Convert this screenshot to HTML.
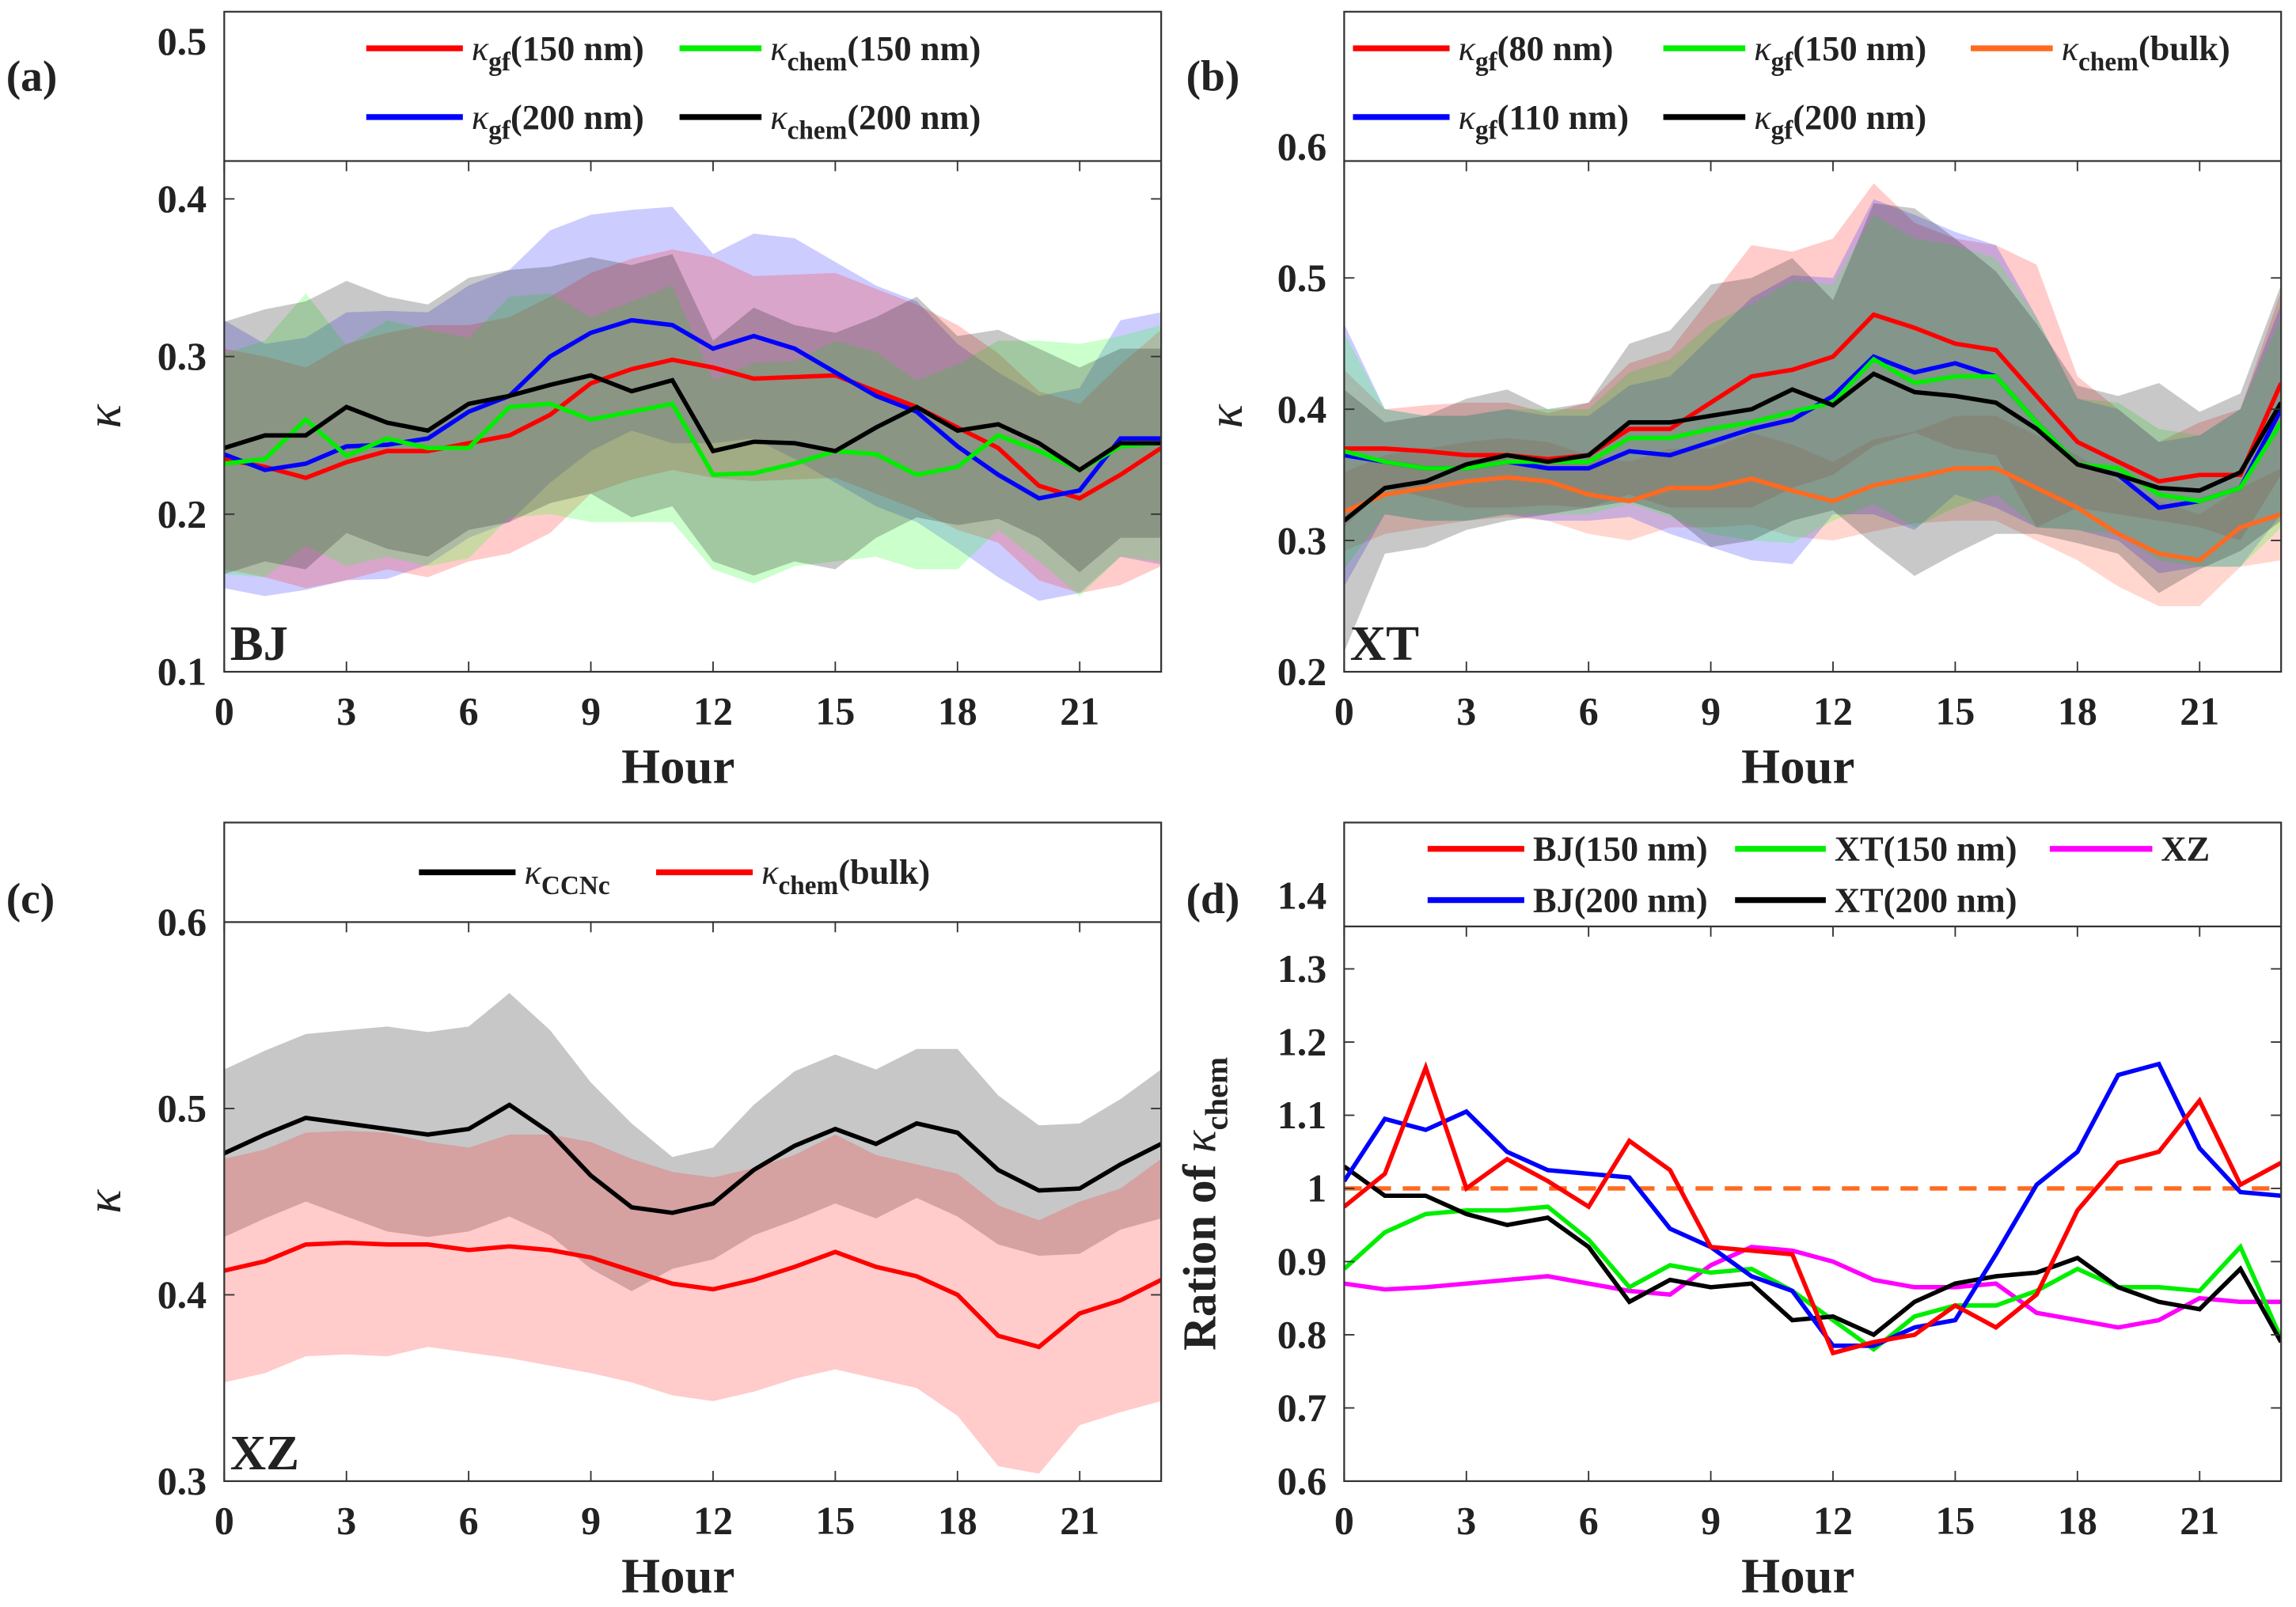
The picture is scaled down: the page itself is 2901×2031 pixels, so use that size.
<!DOCTYPE html>
<html><head><meta charset="utf-8">
<style>
html,body{margin:0;padding:0;background:#fff}
svg{display:block}
text{font-family:"Liberation Serif",serif;font-weight:bold;fill:#222}
</style></head>
<body>
<svg id="fig" width="2901" height="2031" viewBox="0 0 1568 1098" xmlns="http://www.w3.org/2000/svg"></svg>
<script>
const hours=[0,1,2,3,4,5,6,7,8,9,10,11,12,13,14,15,16,17,18,19,20,21,22,23];
const xTicks=[0,3,6,9,12,15,18,21];
// Panel a
const aGf150=[0.235,0.23,0.223,0.233,0.24,0.24,0.245,0.25,0.263,0.283,0.292,0.298,0.293,0.286,0.287,0.288,0.278,0.268,0.255,0.242,0.218,0.21,0.225,0.242];
const aChem150=[0.232,0.235,0.26,0.237,0.248,0.242,0.242,0.268,0.27,0.26,0.265,0.27,0.225,0.226,0.232,0.24,0.238,0.225,0.23,0.25,0.24,0.228,0.243,0.245];
const aGf200=[0.238,0.228,0.232,0.243,0.244,0.248,0.265,0.275,0.3,0.315,0.323,0.32,0.305,0.313,0.305,0.29,0.275,0.265,0.243,0.225,0.21,0.215,0.248,0.248];
const aChem200=[0.242,0.25,0.25,0.268,0.258,0.253,0.27,0.275,0.282,0.288,0.278,0.285,0.24,0.246,0.245,0.24,0.255,0.268,0.253,0.257,0.245,0.228,0.245,0.245];
const aSdGf150=[0.07,0.07,0.07,0.075,0.075,0.08,0.075,0.075,0.075,0.07,0.07,0.07,0.07,0.065,0.065,0.065,0.065,0.065,0.065,0.06,0.06,0.06,0.07,0.075];
const aSdChem150=[0.07,0.075,0.08,0.07,0.075,0.075,0.07,0.07,0.07,0.065,0.07,0.075,0.06,0.07,0.065,0.07,0.065,0.06,0.065,0.06,0.07,0.08,0.07,0.075];
const aSdGf200=[0.085,0.08,0.08,0.085,0.085,0.08,0.08,0.08,0.08,0.075,0.07,0.075,0.06,0.065,0.07,0.07,0.07,0.07,0.065,0.065,0.065,0.065,0.075,0.08];
const aSdChem200=[0.08,0.08,0.085,0.08,0.08,0.08,0.08,0.08,0.075,0.075,0.08,0.08,0.07,0.085,0.075,0.075,0.07,0.07,0.06,0.06,0.06,0.065,0.06,0.06];
// Panel b
const bGf80=[0.37,0.37,0.368,0.365,0.365,0.362,0.365,0.385,0.385,0.405,0.425,0.43,0.44,0.472,0.462,0.45,0.445,0.41,0.375,0.36,0.345,0.35,0.35,0.42];
const bGf110=[0.365,0.36,0.355,0.355,0.36,0.355,0.355,0.368,0.365,0.375,0.385,0.392,0.41,0.44,0.428,0.435,0.425,0.39,0.358,0.35,0.325,0.33,0.34,0.4];
const bGf150=[0.368,0.36,0.355,0.355,0.36,0.36,0.36,0.378,0.378,0.385,0.39,0.398,0.405,0.438,0.42,0.425,0.425,0.39,0.358,0.355,0.335,0.33,0.34,0.39];
const bGf200=[0.315,0.34,0.345,0.358,0.365,0.36,0.365,0.39,0.39,0.395,0.4,0.415,0.403,0.427,0.413,0.41,0.405,0.385,0.358,0.35,0.34,0.338,0.352,0.405];
const bChem=[0.322,0.335,0.34,0.345,0.348,0.345,0.335,0.33,0.34,0.34,0.347,0.338,0.33,0.342,0.348,0.355,0.355,0.34,0.325,0.305,0.29,0.285,0.31,0.32];
const bSdGf80=[0.06,0.03,0.035,0.04,0.04,0.035,0.04,0.05,0.06,0.08,0.1,0.09,0.09,0.1,0.08,0.08,0.08,0.1,0.05,0.04,0.03,0.04,0.05,0.07];
const bSdGf110=[0.1,0.04,0.04,0.04,0.04,0.04,0.04,0.05,0.06,0.08,0.1,0.11,0.09,0.12,0.12,0.1,0.1,0.08,0.05,0.05,0.05,0.05,0.06,0.08];
const bSdGf150=[0.09,0.04,0.04,0.04,0.04,0.04,0.04,0.05,0.06,0.08,0.09,0.1,0.09,0.11,0.11,0.1,0.09,0.08,0.05,0.05,0.05,0.05,0.06,0.08];
const bSdGf200=[0.1,0.05,0.05,0.05,0.05,0.04,0.04,0.06,0.07,0.1,0.1,0.1,0.08,0.13,0.14,0.12,0.1,0.08,0.06,0.06,0.08,0.06,0.06,0.09];
const bSdChem=[0.03,0.03,0.03,0.03,0.03,0.03,0.03,0.03,0.03,0.03,0.035,0.035,0.03,0.035,0.035,0.04,0.04,0.04,0.04,0.04,0.04,0.035,0.03,0.035];
// Panel c
const cCCN=[0.476,0.486,0.495,0.492,0.489,0.486,0.489,0.502,0.487,0.464,0.447,0.444,0.449,0.467,0.48,0.489,0.481,0.492,0.487,0.467,0.456,0.457,0.47,0.481];
const cChem=[0.413,0.418,0.427,0.428,0.427,0.427,0.424,0.426,0.424,0.42,0.413,0.406,0.403,0.408,0.415,0.423,0.415,0.41,0.4,0.378,0.372,0.39,0.397,0.408];
const cSdCCN=[0.045,0.045,0.045,0.05,0.055,0.055,0.055,0.06,0.055,0.05,0.045,0.03,0.03,0.035,0.04,0.04,0.04,0.04,0.045,0.04,0.035,0.035,0.035,0.04];
const cSdChem=[0.06,0.06,0.06,0.06,0.06,0.055,0.055,0.06,0.062,0.062,0.06,0.06,0.06,0.06,0.06,0.063,0.06,0.06,0.065,0.07,0.068,0.06,0.06,0.065];
// Panel d
const dBJ150=[0.975,1.02,1.165,1.0,1.04,1.01,0.975,1.065,1.025,0.92,0.915,0.91,0.775,0.79,0.8,0.84,0.81,0.855,0.97,1.035,1.05,1.12,1.005,1.035];
const dBJ200=[1.01,1.095,1.08,1.105,1.05,1.025,1.02,1.015,0.945,0.92,0.88,0.86,0.785,0.785,0.81,0.82,0.91,1.005,1.05,1.155,1.17,1.055,0.995,0.99];
const dXT150=[0.89,0.94,0.965,0.97,0.97,0.975,0.93,0.865,0.895,0.885,0.89,0.86,0.82,0.78,0.825,0.84,0.84,0.86,0.89,0.865,0.865,0.86,0.92,0.795];
const dXT200=[1.03,0.99,0.99,0.965,0.95,0.96,0.92,0.845,0.875,0.865,0.87,0.82,0.825,0.8,0.845,0.87,0.88,0.885,0.905,0.865,0.845,0.835,0.89,0.79];
const dXZ=[0.87,0.862,0.865,0.87,0.875,0.88,0.87,0.86,0.855,0.895,0.92,0.915,0.9,0.875,0.865,0.865,0.87,0.83,0.82,0.81,0.82,0.85,0.845,0.845];
const dRef=[1,1];

const NS="http://www.w3.org/2000/svg";
const svg=document.getElementById('fig');
function mk(tag,attrs,parent){const e=document.createElementNS(NS,tag);for(const k in attrs)e.setAttribute(k,attrs[k]);(parent||svg).appendChild(e);return e;}

function panel(P){
  const g=mk('g',{});
  
  
  const sx=h=>P.x0+(h-0)*(P.x1-P.x0)/23;
  const sy=v=>P.yb-(v-P.v0)*P.py;
  const clipId='clip'+P.id;
  const cp=mk('clipPath',{id:clipId},g);
  mk('rect',{x:P.x0,y:P.legY,width:P.x1-P.x0,height:P.yb-P.legY},cp);
  const data=mk('g',{'clip-path':'url(#'+clipId+')'},g);
  (P.bands||[]).forEach(b=>{
    let d='';
    hours.forEach((h,i)=>{d+=(i?'L':'M')+sx(h).toFixed(1)+','+sy(b.m[i]+b.s[i]).toFixed(1);});
    for(let i=hours.length-1;i>=0;i--)d+='L'+sx(hours[i]).toFixed(1)+','+sy(b.m[i]-b.s[i]).toFixed(1);
    const p=mk('path',{d:d+'Z',fill:b.c,'fill-opacity':b.o||0.25,stroke:'none'},data);
    
    
  });
  (P.lines||[]).forEach(l=>{
    const pts=l.m.length===2?[[P.x0,sy(l.m[0])],[P.x1,sy(l.m[1])]]:hours.map((h,i)=>[sx(h),sy(l.m[i])]);
    const p=mk('polyline',{points:pts.map(q=>q[0].toFixed(1)+','+q[1].toFixed(1)).join(' '),fill:'none',stroke:l.c,'stroke-width':3,'stroke-dasharray':l.dash||'none'},data);
    
    
  });
  mk('rect',{x:P.x0,y:P.top,width:P.x1-P.x0,height:P.legY-P.top,fill:'#fff'},g);
  mk('line',{x1:P.x0,x2:P.x1,y1:P.legY,y2:P.legY,stroke:'#333','stroke-width':1.2},g);
  mk('rect',{x:P.x0,y:P.top,width:P.x1-P.x0,height:P.yb-P.top,fill:'none',stroke:'#333','stroke-width':1.2},g);
  P.yTicks.forEach(v=>{
    const y=sy(v);
    if(y>=P.legY-1){mk('line',{x1:P.x0,x2:P.x0+7,y1:y,y2:y,stroke:'#333'},g);mk('line',{x1:P.x1,x2:P.x1-7,y1:y,y2:y,stroke:'#333'},g);}
    const t=mk('text',{x:P.x0-12,y:y+9,'font-size':27,'text-anchor':'end'},g);t.textContent=P.yFmt(v);
    
    
  });
  xTicks.forEach(h=>{
    const x=sx(h);
    mk('line',{x1:x,x2:x,y1:P.yb,y2:P.yb-7,stroke:'#333'},g);
    mk('line',{x1:x,x2:x,y1:P.legY,y2:P.legY+7,stroke:'#333'},g);
    const t=mk('text',{x:x,y:P.yb+36,'font-size':27,'text-anchor':'middle'},g);t.textContent=h;
    
    
  });
  const xt=mk('text',{x:(P.x0+P.x1)/2-10,y:P.yb+76,'font-size':34,'text-anchor':'middle'},g);xt.textContent='Hour';
  
  
  const yt=mk('text',{transform:`translate(${P.ytx},${(P.legY+P.yb)/2}) rotate(-90)`,'font-size':P.ytSize||34,'text-anchor':'middle'},g);
  yt.innerHTML=P.yTitle;
  
  
  const lab=mk('text',{x:P.labX,y:P.labY,'font-size':30},g);lab.textContent=P.label;
  
  
  if(P.site){const s=mk('text',{x:P.x0+4,y:P.yb-8,'font-size':34},g);s.textContent=P.site;
    
    }
  P.legend.forEach(e=>{
    const lg=mk('g',{},g);
    
    
    mk('line',{x1:e.x,x2:e.x+e.w,y1:e.y,y2:e.y,stroke:e.c,'stroke-width':4},lg);
    const t=mk('text',{x:e.x+e.w+6,y:e.y+8,'font-size':24},lg);t.innerHTML=e.t;
  });
}
const K=(sub,rest)=>`<tspan font-style="italic" font-weight="normal">κ</tspan><tspan font-size="18" dy="7">${sub}</tspan><tspan dy="-7">${rest}</tspan>`;

panel({id:'a',name:'panel-a-bj',x0:153,x1:793,yb:459,top:8,legY:110,v0:0.1,py:1077,yTicks:[0.1,0.2,0.3,0.4,0.5],yFmt:v=>v.toFixed(1),
 ytx:82,yTitle:'<tspan font-style="italic" font-weight="normal">κ</tspan>',label:'(a)',labX:4,labY:62,site:'BJ',
 bands:[{m:aGf200,s:aSdGf200,c:'#3333ff',n:'band-gf200'},{m:aGf150,s:aSdGf150,c:'#ff3030',n:'band-gf150'},{m:aChem150,s:aSdChem150,c:'#30ff30',n:'band-chem150'},{m:aChem200,s:aSdChem200,c:'#222',n:'band-chem200'}],
 lines:[{m:aGf150,c:'#ff0000',n:'line-gf150'},{m:aGf200,c:'#0000ff',n:'line-gf200'},{m:aChem150,c:'#00ee00',n:'line-chem150'},{m:aChem200,c:'#000',n:'line-chem200'}],
 legend:[{x:250,y:33,w:66,c:'#f00',t:K('gf','(150 nm)')},{x:464,y:33,w:56,c:'#0e0',t:K('chem','(150 nm)')},{x:250,y:80,w:66,c:'#00f',t:K('gf','(200 nm)')},{x:464,y:80,w:56,c:'#000',t:K('chem','(200 nm)')}]});

panel({id:'b',name:'panel-b-xt',x0:918,x1:1558,yb:459,top:8,legY:110,v0:0.2,py:897,yTicks:[0.2,0.3,0.4,0.5,0.6],yFmt:v=>v.toFixed(1),
 ytx:848,yTitle:'<tspan font-style="italic" font-weight="normal">κ</tspan>',label:'(b)',labX:810,labY:62,site:'XT',
 bands:[{m:bChem,s:bSdChem,c:'#ff6040',n:'band-chem-bulk'},{m:bGf80,s:bSdGf80,c:'#ff3030',n:'band-gf80'},{m:bGf110,s:bSdGf110,c:'#3333ff',n:'band-gf110'},{m:bGf150,s:bSdGf150,c:'#30ff30',n:'band-gf150'},{m:bGf200,s:bSdGf200,c:'#222',n:'band-gf200'}],
 lines:[{m:bChem,c:'#ff6a20',n:'line-chem-bulk'},{m:bGf80,c:'#f00',n:'line-gf80'},{m:bGf110,c:'#00f',n:'line-gf110'},{m:bGf150,c:'#0e0',n:'line-gf150'},{m:bGf200,c:'#000',n:'line-gf200'}],
 legend:[{x:924,y:33,w:66,c:'#f00',t:K('gf','(80 nm)')},{x:1136,y:33,w:56,c:'#0e0',t:K('gf','(150 nm)')},{x:1346,y:33,w:56,c:'#ff6a20',t:K('chem','(bulk)')},{x:924,y:80,w:66,c:'#00f',t:K('gf','(110 nm)')},{x:1136,y:80,w:56,c:'#000',t:K('gf','(200 nm)')}]});

panel({id:'c',name:'panel-c-xz',x0:153,x1:793,yb:1012,top:562,legY:630,v0:0.3,py:1273,yTicks:[0.3,0.4,0.5,0.6],yFmt:v=>v.toFixed(1),
 ytx:82,yTitle:'<tspan font-style="italic" font-weight="normal">κ</tspan>',label:'(c)',labX:4,labY:624,site:'XZ',
 bands:[{m:cCCN,s:cSdCCN,c:'#444',o:0.3,n:'band-ccnc'},{m:cChem,s:cSdChem,c:'#ff3030',n:'band-chem-bulk'}],
 lines:[{m:cCCN,c:'#000',n:'line-ccnc'},{m:cChem,c:'#f00',n:'line-chem-bulk'}],
 legend:[{x:286,y:596,w:66,c:'#000',t:K('CCNc','')},{x:448,y:596,w:66,c:'#f00',t:K('chem','(bulk)')}]});

panel({id:'d',name:'panel-d-ratio',x0:918,x1:1558,yb:1012,top:562,legY:633,v0:0.6,py:500,yTicks:[0.6,0.7,0.8,0.9,1.0,1.1,1.2,1.3,1.4],yFmt:v=>Math.abs(v-1)<1e-9?'1':v.toFixed(1),
 ytx:830,ytSize:32,yTitle:'Ration of <tspan font-style="italic" font-weight="normal">κ</tspan><tspan font-size="22" dy="8">chem</tspan>',label:'(d)',labX:810,labY:624,
 lines:[{m:dRef,c:'#ff6a20',dash:'12 8',n:'reference-line-1'},{m:dXZ,c:'#ff00ff',n:'line-xz'},{m:dXT150,c:'#0e0',n:'line-xt150'},{m:dXT200,c:'#000',n:'line-xt200'},{m:dBJ200,c:'#00f',n:'line-bj200'},{m:dBJ150,c:'#f00',n:'line-bj150'}],
 legend:[{x:975,y:580,w:66,c:'#f00',t:'BJ(150 nm)'},{x:1185,y:580,w:62,c:'#0e0',t:'XT(150 nm)'},{x:1400,y:580,w:70,c:'#f0f',t:'XZ'},{x:975,y:615,w:66,c:'#00f',t:'BJ(200 nm)'},{x:1185,y:615,w:62,c:'#000',t:'XT(200 nm)'}]});
</script>
</body></html>
